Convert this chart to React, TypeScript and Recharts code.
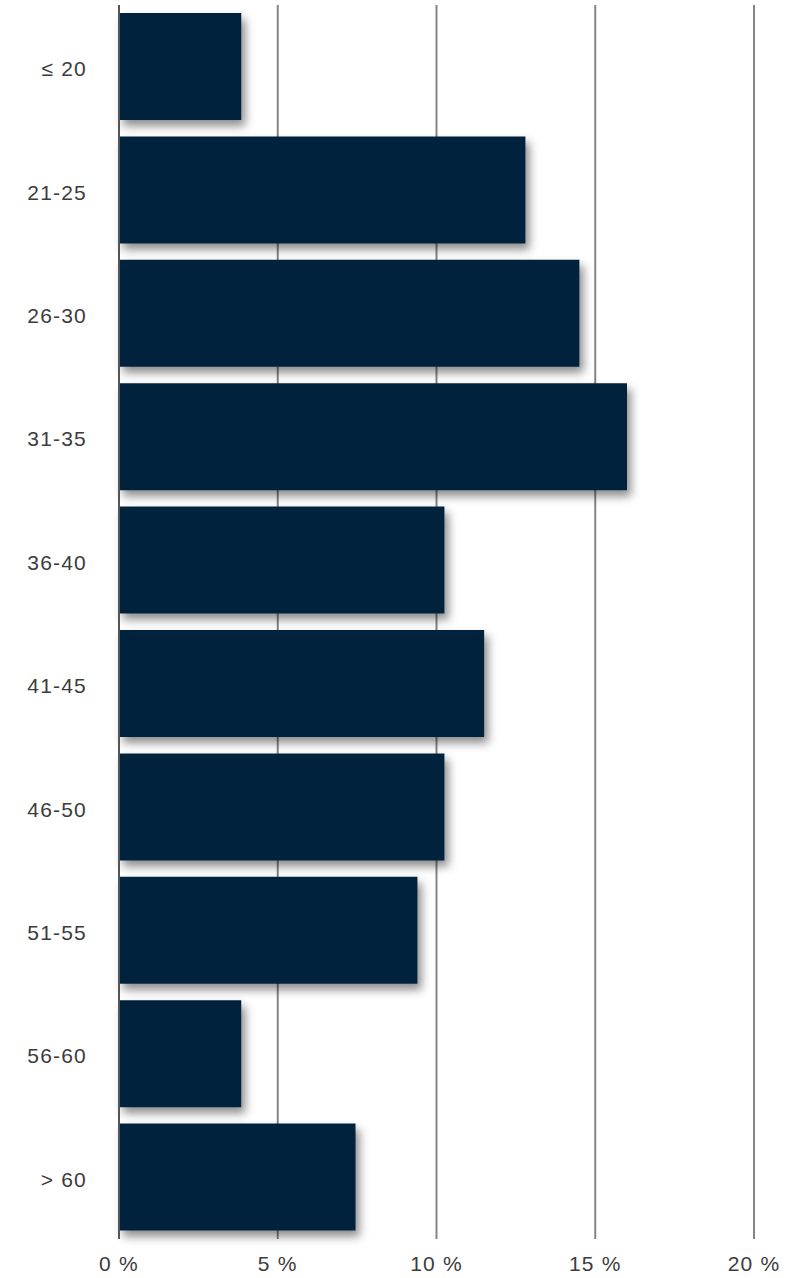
import { BarChart, Bar, XAxis, YAxis, CartesianGrid } from "recharts";

const ageGroups = ["≤ 20", "21-25", "26-30", "31-35", "36-40", "41-45", "46-50", "51-55", "56-60", "> 60"];
const shares = [3.85, 12.8, 14.5, 16.0, 10.25, 11.5, 10.25, 9.4, 3.85, 7.45];
const xTicks = [0, 5, 10, 15, 20];

const data = ageGroups.map((name, i) => ({ name, share: shares[i] }));

const tickFont = {
  fontFamily: "'Liberation Sans', Arial, sans-serif",
  fontSize: 21,
  letterSpacing: 1.2,
  fill: "#3c3c3c",
};

export default function App() {
  return (
    <div style={{ position: "absolute", left: 0, top: 0, background: "#fff" }}>
      <BarChart
        width={795}
        height={1278}
        data={data}
        layout="vertical"
        margin={{ top: 5, right: 41, bottom: 0, left: 0 }}
        barCategoryGap={8}
      >
        <defs>
          <filter id="barShadow" x="-10%" y="-25%" width="130%" height="170%">
            <feDropShadow dx="4" dy="6" stdDeviation="5" floodColor="#000" floodOpacity="0.45" />
          </filter>
        </defs>
        <CartesianGrid horizontal={false} vertical stroke="#858585" strokeWidth={2} />
        <XAxis
          type="number"
          domain={[0, 20]}
          ticks={xTicks}
          tickFormatter={(v) => `${v} %`}
          axisLine={false}
          tickLine={false}
          tick={tickFont}
          tickMargin={11}
          height={39}
        />
        <YAxis
          type="category"
          dataKey="name"
          width={119}
          axisLine={{ stroke: "#555", strokeWidth: 2 }}
          tickLine={false}
          tick={{ ...tickFont, dy: 2 }}
          tickMargin={26}
        />
        <Bar dataKey="share" fill="#01203C" filter="url(#barShadow)" isAnimationActive={false} />
      </BarChart>
    </div>
  );
}
